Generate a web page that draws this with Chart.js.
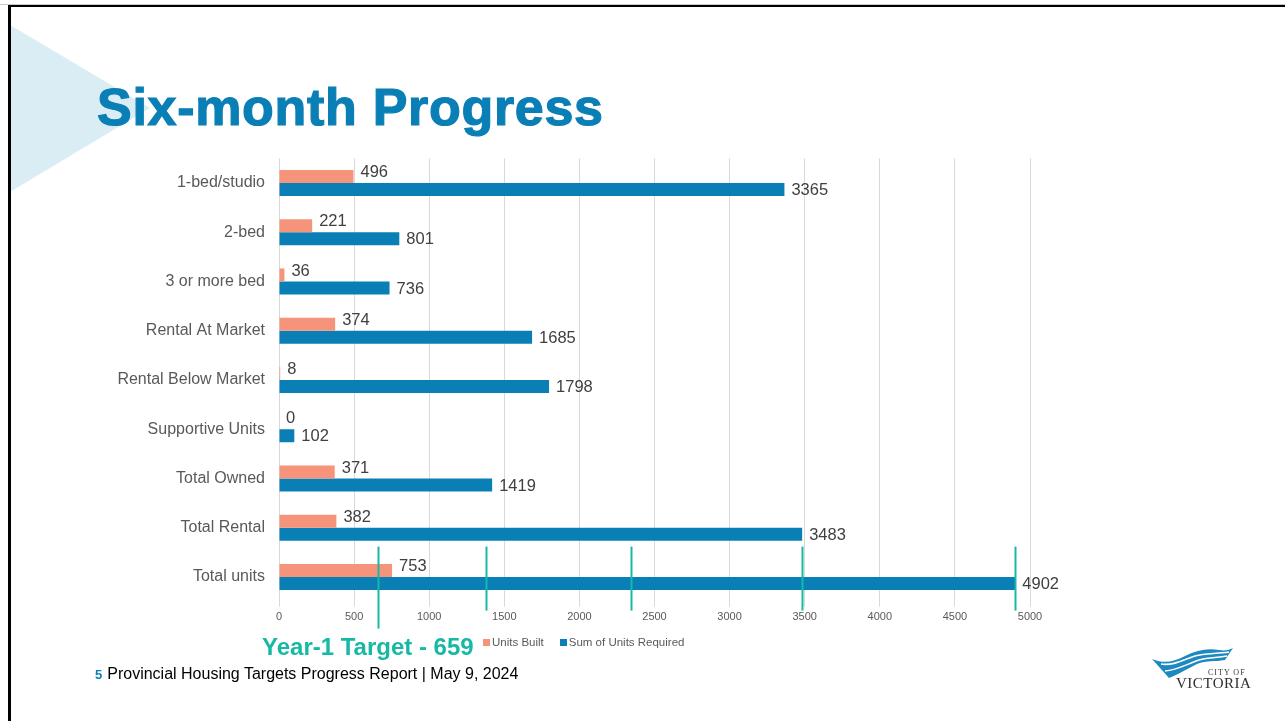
<!DOCTYPE html>
<html>
<head>
<meta charset="utf-8">
<script src="https://cdn.jsdelivr.net/npm/chart.js@4.4.1/dist/chart.umd.min.js"></script>
<style>
  body { margin: 0; width: 1285px; height: 721px; overflow: hidden; background: #fff; font-family: "Liberation Sans", Arial, sans-serif; position: relative; }
  #topline { position: absolute; left: 0; top: 4px; width: 1285px; height: 1px; background: #c8c8c8; }
  #frame { position: absolute; left: 8px; top: 5px; width: 1290px; height: 730px; border-top: 2px solid #000; border-left: 3px solid #000; }
  #tri { position: absolute; left: 0; top: 0; }
  #title { position: absolute; left: 97px; top: 77px; font-size: 52px; font-weight: bold; color: #0A7FB5; letter-spacing: 0.7px; white-space: nowrap; -webkit-text-stroke: 1.2px #0A7FB5; }
  #chartBox { position: absolute; left: 0; top: 0; width: 1285px; height: 721px; }
  #target { position: absolute; left: 262px; top: 633px; font-size: 24px; font-weight: bold; color: #17B9A5; white-space: nowrap; }
  #legend { position: absolute; left: 483px; top: 636px; font-size: 11.5px; color: #595959; white-space: nowrap; }
  #legend span.sw { display: inline-block; width: 7px; height: 7px; margin-right: 2px; vertical-align: 0px; }
  #footer { position: absolute; left: 95px; top: 665px; font-size: 16px; color: #000; white-space: nowrap; }
  #footer b { color: #0A7FB5; font-size: 13px; margin-right: 5px; }
  #logo { position: absolute; left: 1145px; top: 640px; }
</style>
</head>
<body>
<div id="topline"></div>
<svg id="tri" width="200" height="200"><polygon points="10,25 150,108 10,192" fill="#DAEDF5"/></svg>
<div id="frame"></div>
<div id="title">Six-month Progress</div>
<div id="chartBox"><canvas id="chart" width="1285" height="721"></canvas></div>
<div id="target">Year-1 Target - 659</div>
<div id="legend"><span class="sw" style="background:#F6937B"></span>Units Built&nbsp;&nbsp;&nbsp;&nbsp;&nbsp;<span class="sw" style="background:#0A7FB5"></span>Sum of Units Required</div>
<div id="footer"><b>5</b>Provincial Housing Targets Progress Report | May 9, 2024</div>
<svg id="logo" width="120" height="60" viewBox="0 0 120 60">
  <path d="M7,19 C20,24 28,22 40,16 C52,10 62,8 74,10 C80,11 84,10 88,8 L80,20 C70,22 62,20 52,24 C40,30 34,34 24,38 Z" fill="#1E88C0"/>
  <path d="M16,24 C28,26 38,20 50,16 C60,13 70,14 84,12" stroke="#fff" stroke-width="1.6" fill="none"/>
  <path d="M20,31 C32,30 42,24 54,20 C64,17 72,18 82,16" stroke="#fff" stroke-width="1.4" fill="none"/>
  <text x="63" y="35" font-family="Liberation Serif, serif" font-size="8" fill="#3a3a3a" letter-spacing="1">CITY OF</text>
  <text x="31" y="48" font-family="Liberation Serif, serif" font-size="15" fill="#2f2f2f" letter-spacing="0.5">VICTORIA</text>
</svg>
<script>
const categories = ['1-bed/studio', '2-bed', '3 or more bed', 'Rental At Market', 'Rental Below Market', 'Supportive Units', 'Total Owned', 'Total Rental', 'Total units'];
const unitsBuilt = [496, 221, 36, 374, 8, 0, 371, 382, 753];
const unitsRequired = [3365, 801, 736, 1685, 1798, 102, 1419, 3483, 4902];
const xTicks = [0, 500, 1000, 1500, 2000, 2500, 3000, 3500, 4000, 4500, 5000];
// cumulative yearly targets shown as teal markers on the last row
const targetMarks = [659, 1378, 2343, 3484, 4902];

const valueLabels = {
    id: 'valueLabels',
    afterDatasetsDraw(chart) {
        const c = chart.ctx;
        c.save();
        c.font = '16.5px "Liberation Sans", Arial, sans-serif';
        c.fillStyle = '#404040';
        c.textBaseline = 'middle';
        chart.data.datasets.forEach((ds, i) => {
            chart.getDatasetMeta(i).data.forEach((bar, j) => {
                const dy = i === 0 ? -4 : 1;
                c.fillText(String(ds.data[j]), bar.x + 7, bar.y + dy);
            });
        });
        c.restore();
    }
};

const targetLines = {
    id: 'targetLines',
    afterDatasetsDraw(chart) {
        const c = chart.ctx;
        const x = chart.scales.x;
        const bottom = chart.chartArea.bottom;
        c.save();
        c.strokeStyle = '#17B9A5';
        c.lineWidth = 2;
        targetMarks.forEach((v, i) => {
            const px = Math.round(x.getPixelForValue(v)) + 0.5;
            c.beginPath();
            c.moveTo(px, bottom - 55);
            c.lineTo(px, i === 0 ? bottom + 27 : bottom + 9);
            c.stroke();
        });
        c.restore();
    }
};

const ctx = document.getElementById('chart').getContext('2d');
new Chart(ctx, {
    type: 'bar',
    data: {
        labels: categories,
        datasets: [{
            label: 'Units Built',
            data: unitsBuilt,
            backgroundColor: '#F6937B',
            categoryPercentage: 0.53,
            barPercentage: 1.0
        }, {
            label: 'Sum of Units Required',
            data: unitsRequired,
            backgroundColor: '#0A7FB5',
            categoryPercentage: 0.53,
            barPercentage: 1.0
        }]
    },
    options: {
        indexAxis: 'y',
        responsive: false,
        animation: false,
        layout: { padding: { left: 100, right: 255, top: 158.4, bottom: 89.4 } },
        plugins: { legend: { display: false }, tooltip: { enabled: false } },
        scales: {
            x: {
                min: 0,
                max: 5000,
                afterBuildTicks: s => { s.ticks = xTicks.map(v => ({ value: v })); },
                afterFit: s => { s.height = 30; },
                grid: { color: '#D9D9D9', tickLength: 5, lineWidth: 1 },
                border: { display: false },
                ticks: {
                    color: '#595959', padding: 4,
                    font: { size: 11, family: '"Liberation Sans", Arial, sans-serif' },
                    callback: v => String(v)
                }
            },
            y: {
                afterFit: s => { s.width = 179; },
                grid: { display: false },
                border: { display: false },
                ticks: { color: '#595959', padding: 6, font: { size: 16, family: '"Liberation Sans", Arial, sans-serif' } }
            }
        }
    },
    plugins: [valueLabels, targetLines]
});
</script>
</body>
</html>
